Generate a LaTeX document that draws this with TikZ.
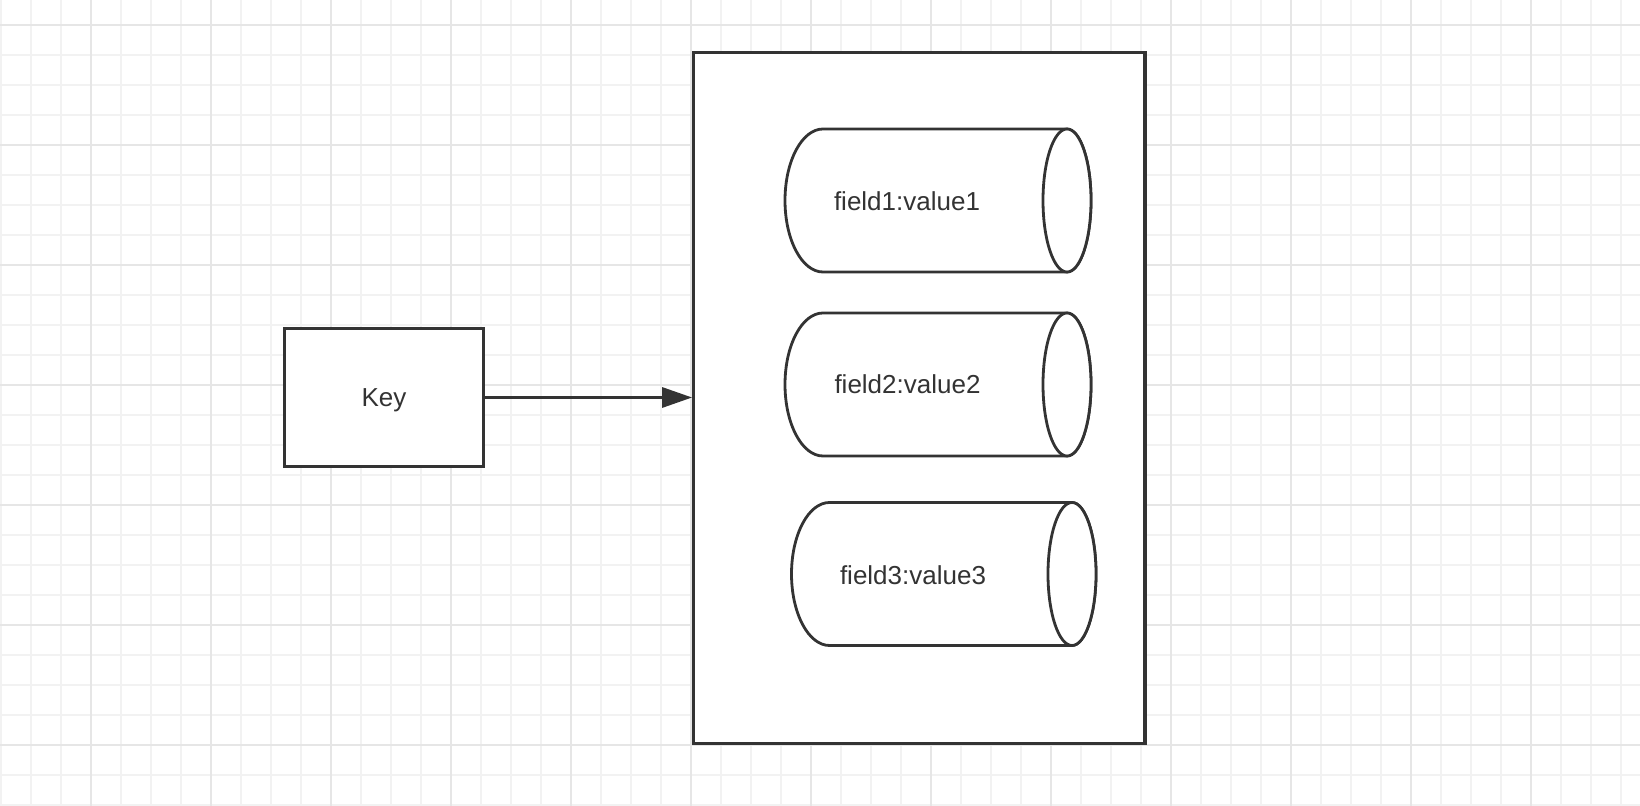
\documentclass[tikz,border=0pt]{standalone}
\usepackage{fontspec}
\setmainfont{Liberation Sans}
\usetikzlibrary{arrows.meta}
\definecolor{ink}{HTML}{333333}
\definecolor{gridminor}{HTML}{F2F2F2}
\definecolor{gridmajor}{HTML}{E6E6E6}
\begin{document}
\begin{tikzpicture}[x=0.5pt,y=-0.5pt,
  minorline/.style={draw=gridminor, line width=1pt},
  majorline/.style={draw=gridmajor, line width=1pt},
  boxstyle/.style={draw=ink, fill=white, line width=1.6pt, inner sep=0pt},
  cylline/.style={draw=ink, fill=white, line width=1.4pt, line join=round},
  labeltext/.style={font=\fontsize{13}{15}\selectfont, text=ink, text height=9.3pt, text depth=0pt, inner sep=0pt},
  linkarrow/.style={draw=ink, line width=1.6pt, -{Triangle[length=15pt,width=10pt]}}]
\useasboundingbox (0,0) rectangle (1640,806);
\fill[white] (0,0) rectangle (1640,806);
% grid
\foreach \k in {0,...,54} \draw[minorline] ({0.7+30*\k},0) -- ({0.7+30*\k},806);
\foreach \k in {0,...,26} \draw[minorline] (0,{25+30*\k}) -- (1640,{25+30*\k});
\foreach \k in {0,...,12} \draw[majorline] ({90.7+120*\k},0) -- ({90.7+120*\k},806);
\foreach \k in {0,...,6} \draw[majorline] (0,{25+120*\k}) -- (1640,{25+120*\k});
% container
\node[boxstyle, minimum width=225.65pt, minimum height=345.5pt] (hash) at (919.35,397.8) {};
% cylinders
\foreach \L/\xc/\cy in {785/1067/200.5, 785/1067/384.5, 791.5/1072/574}{
  \pgfmathsetmacro{\cx}{\L+38}
  \pgfmathsetmacro{\ty}{\cy-71.5}
  \pgfmathsetmacro{\by}{\cy+71.5}
  \pgfmathsetmacro{\kty}{\cy-0.5523*71.5}
  \pgfmathsetmacro{\kby}{\cy+0.5523*71.5}
  \pgfmathsetmacro{\rxo}{\xc+24}
  \pgfmathsetmacro{\rxk}{\xc+0.5523*24}
  \pgfmathsetmacro{\lxk}{\cx-0.5523*38}
  \path[cylline] (\cx,\ty) -- (\xc,\ty)
    .. controls (\rxk,\ty) and (\rxo,\kty) .. (\rxo,\cy)
    .. controls (\rxo,\kby) and (\rxk,\by) .. (\xc,\by)
    -- (\cx,\by)
    .. controls (\lxk,\by) and (\L,\kby) .. (\L,\cy)
    .. controls (\L,\kty) and (\lxk,\ty) .. (\cx,\ty) -- cycle;
  \draw[cylline] (\xc,\cy) ellipse [x radius=12pt, y radius=35.75pt];
}
\node[labeltext] (f1) at (907,200.9) {field1:value1};
\node[labeltext] (f2) at (907.5,384.5) {field2:value2};
\node[labeltext] (f3) at (913,575.5) {field3:value3};
% key
\node[boxstyle, minimum width=99.5pt, minimum height=69.2pt] (key) at (383.8,397.5) {};
\node[labeltext] (keytext) at (384,397) {Key};
\draw[linkarrow] (key.east) -- (key.east -| hash.west);
\end{tikzpicture}
\end{document}
